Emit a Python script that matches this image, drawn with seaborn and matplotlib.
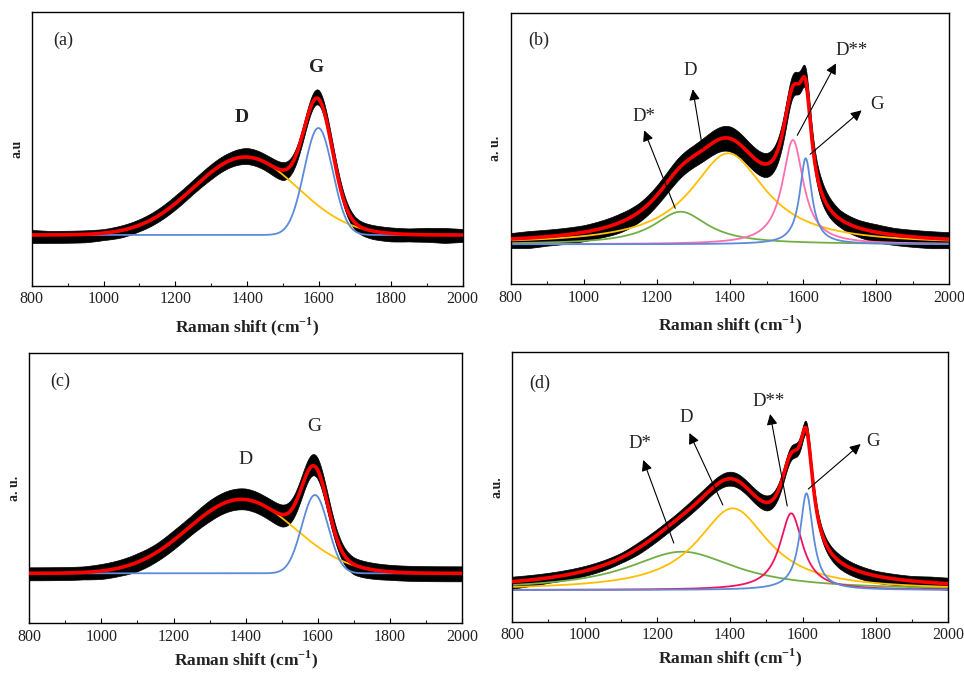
import numpy as np
import matplotlib
matplotlib.use("Agg")
import matplotlib.pyplot as plt
import seaborn as sns

sns.set_theme(style="white")
plt.rcParams["font.family"] = ["Liberation Serif", "DejaVu Serif"]
plt.rcParams["mathtext.fontset"] = "custom"
plt.rcParams["mathtext.rm"] = "Liberation Serif"
plt.rcParams["mathtext.bf"] = "Liberation Serif:bold"

# ---------------------------------------------------------------- data
SHIFT_MIN, SHIFT_MAX = 800, 2000
X_TICKS = [800, 1000, 1200, 1400, 1600, 1800, 2000]

# Noise envelope of the measured spectra (sampled every 50 cm-1)
NOISE_X = list(range(800, 2001, 50))

# (a) two Gaussian bands: D, G  (centre cm-1, height a.u., sigma cm-1)
A_CENTERS = [1395, 1598]
A_HEIGHTS = [78, 107]
A_SIGMAS = [145, 39.5]
A_NOISE_UP = [5, 4, 4, 4, 4, 5, 6, 7, 8, 8, 8, 8, 9, 8, 8, 7, 9, 8, 6, 6, 6, 6, 7, 7, 6]
A_NOISE_DN = [8, 8, 8, 8, 7, 7, 6, 6, 6, 6, 7, 7, 7, 8, 10, 8, 6, 5, 7, 8, 8, 7, 7, 8, 7]

# (b) four Lorentzian bands: D*, D, D**, G  (centre, height, HWHM)
B_CENTERS = [1265, 1395, 1572, 1607]
B_HEIGHTS = [32.6, 91, 104.3, 86]
B_HWHM = [90, 125, 35, 20]
B_NOISE_UP = [6, 7, 7, 7, 7, 8, 9, 9, 10, 11, 11, 12, 12, 11, 11, 12, 12, 13, 9, 8, 8, 7, 7, 7, 7]
B_NOISE_DN = [9, 10, 9, 9, 9, 9, 10, 10, 10, 11, 11, 12, 13, 13, 13, 12, 10, 9, 8, 9, 10, 10, 10, 10, 9]

# (c) two Gaussian bands: D, G
C_CENTERS = [1388, 1592]
C_HEIGHTS = [74, 78.3]
C_SIGMAS = [148, 36.5]
C_NOISE_UP = [6, 6, 6, 6, 7, 8, 9, 9, 10, 10, 11, 11, 11, 10, 10, 11, 12, 9, 7, 7, 7, 7, 7, 7, 7]
C_NOISE_DN = [7, 7, 7, 7, 8, 8, 9, 9, 9, 9, 10, 10, 10, 11, 12, 11, 9, 8, 10, 9, 8, 8, 8, 8, 8]

# (d) four Lorentzian bands: D*, D, D**, G
D_CENTERS = [1268, 1407, 1568, 1610]
D_HEIGHTS = [38.3, 81.7, 76.7, 96.7]
D_HWHM = [182, 120, 38, 22]
D_NOISE_UP = [5, 5, 5, 5, 5, 5, 5, 6, 6, 6, 7, 7, 7, 7, 7, 7, 7, 6, 7, 6, 5, 5, 5, 6, 6]
D_NOISE_DN = [7, 6, 5, 5, 5, 5, 5, 6, 6, 6, 6, 6, 7, 7, 8, 7, 7, 6, 7, 7, 7, 6, 6, 6, 6]

# ---------------------------------------------------------------- styles
RED = "#FF0000"
BLUE = "#5B8BD9"
YELLOW = "#FFBE00"
GREEN = "#72AE45"
PINK = "#FF6EB0"
CRIMSON = "#F2125C"
INK = "#222222"


def gaussian(x, c, h, s):
    return h * np.exp(-((x - c) ** 2) / (2.0 * s ** 2))


def lorentzian(x, c, h, g):
    return h / (1.0 + ((x - c) / g) ** 2)


def draw_spectrum(ax, profile, centers, heights, widths, colors, noise_up, noise_dn):
    x = np.linspace(SHIFT_MIN, SHIFT_MAX, 2401)
    bands = [profile(x, c, h, w) for c, h, w in zip(centers, heights, widths)]
    total = np.sum(bands, axis=0)
    upper = total + np.interp(x, NOISE_X, noise_up)
    lower = total - np.interp(x, NOISE_X, noise_dn)
    ax.fill_between(x, lower, upper, color="black", lw=0.5, zorder=1)
    for band, col in zip(bands, colors):
        sns.lineplot(x=x, y=band, ax=ax, color=col, lw=1.3, zorder=2)
    sns.lineplot(x=x, y=total, ax=ax, color=RED, lw=2.6, zorder=3)


def style_axes(ax, ylim, ylabel, tag, tag_pos, xlabel_pad=6):
    ax.set_xlim(SHIFT_MIN, SHIFT_MAX)
    ax.set_ylim(*ylim)
    ax.set_xticks(X_TICKS)
    ax.set_xticks(range(900, 2000, 200), minor=True)
    ax.set_yticks([])
    ax.tick_params(axis="x", which="major", direction="in", length=3.5, width=0.8,
                   bottom=True, top=False, labelsize=11.5, pad=4, colors="black",
                   labelcolor=INK)
    ax.tick_params(axis="x", which="minor", direction="in", length=2, width=0.8,
                   bottom=True, top=False)
    for sp in ax.spines.values():
        sp.set_color("black")
        sp.set_linewidth(1.0)
    ax.set_xlabel(r"Raman shift (cm$^{\mathbf{-1}}$)", fontsize=12.5,
                  fontweight="bold", labelpad=xlabel_pad, color=INK)
    ax.set_ylabel(ylabel, fontsize=10, fontweight="bold", labelpad=6, color=INK)
    ax.text(tag_pos[0], tag_pos[1], tag, transform=ax.transAxes, fontsize=13,
            ha="center", va="center", color=INK)


def arrow_label(ax, text, text_xy, tail, head):
    ax.text(text_xy[0], text_xy[1], text, fontsize=13.5, ha="center", va="center",
            color=INK)
    ax.annotate("", xy=head, xytext=tail,
                arrowprops=dict(arrowstyle="-|>", color="black", lw=0.8,
                                mutation_scale=16, shrinkA=0, shrinkB=0))


fig = plt.figure(figsize=(9.64, 6.73), dpi=100)
fig.patch.set_facecolor("white")

ax_a = fig.add_axes([0.0329, 0.5755, 0.4471, 0.4062])
ax_b = fig.add_axes([0.5298, 0.5780, 0.4550, 0.4022])
ax_c = fig.add_axes([0.0304, 0.0738, 0.4489, 0.4012])
ax_d = fig.add_axes([0.5311, 0.0762, 0.4526, 0.4003])

# (a)
draw_spectrum(ax_a, gaussian, A_CENTERS, A_HEIGHTS, A_SIGMAS, [YELLOW, BLUE],
              A_NOISE_UP, A_NOISE_DN)
style_axes(ax_a, (-50.7, 222.7), "a.u", "(a)", (0.073, 0.899))
ax_a.text(1385, 118, "D", fontsize=14, fontweight="bold", ha="center", va="center",
          color=INK)
ax_a.text(1592, 168, "G", fontsize=14, fontweight="bold", ha="center", va="center",
          color=INK)

# (b)
draw_spectrum(ax_b, lorentzian, B_CENTERS, B_HEIGHTS, B_HWHM, [GREEN, YELLOW, PINK, BLUE],
              B_NOISE_UP, B_NOISE_DN)
style_axes(ax_b, (-39.7, 231.0), "a. u.", "(b)", (0.063, 0.901))
arrow_label(ax_b, "D*", (1163, 128), (1250, 36), (1165, 114))
arrow_label(ax_b, "D", (1292, 174), (1325, 96), (1298, 155))
arrow_label(ax_b, "D**", (1733, 194), (1584, 109), (1690, 181))
arrow_label(ax_b, "G", (1801, 140), (1619, 90), (1760, 134))

# (c)
draw_spectrum(ax_c, gaussian, C_CENTERS, C_HEIGHTS, C_SIGMAS, [YELLOW, BLUE],
              C_NOISE_UP, C_NOISE_DN)
style_axes(ax_c, (-50.0, 220.0), "a. u.", "(c)", (0.071, 0.898), xlabel_pad=2.5)
ax_c.text(1400, 114, "D", fontsize=14, ha="center", va="center", color=INK)
ax_c.text(1591, 147, "G", fontsize=14, ha="center", va="center", color=INK)

# (d)
draw_spectrum(ax_d, lorentzian, D_CENTERS, D_HEIGHTS, D_HWHM, [GREEN, YELLOW, CRIMSON, BLUE],
              D_NOISE_UP, D_NOISE_DN)
style_axes(ax_d, (-31.7, 237.7), "a.u.", "(d)", (0.0626, 0.885), xlabel_pad=2.5)
arrow_label(ax_d, "D*", (1152, 147), (1245, 47), (1161, 130))
arrow_label(ax_d, "D", (1278, 173), (1380, 85), (1288, 157))
arrow_label(ax_d, "D**", (1505, 189), (1557, 84), (1510, 176))
arrow_label(ax_d, "G", (1792, 149), (1615, 101), (1759, 146))

fig.savefig("out.png", dpi=100, facecolor="white")
